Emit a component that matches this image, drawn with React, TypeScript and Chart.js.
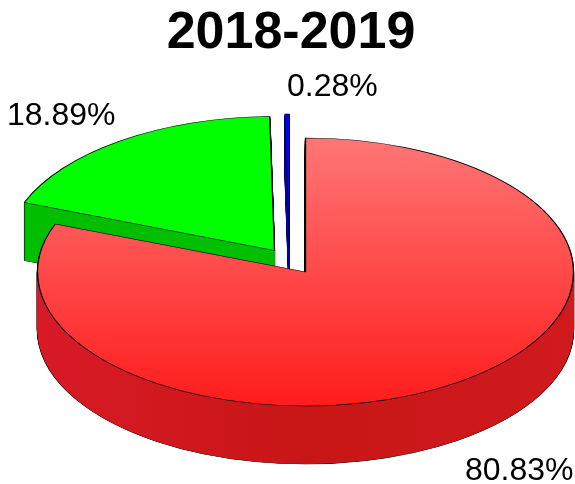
import React, { useEffect, useRef } from "react";
import { Chart, registerables } from "chart.js";

Chart.register(...registerables);

const categories = ["Series A", "Series B", "Series C"];
const shares = [80.83, 18.89, 0.28];
const chartTitle = "2018-2019";

const topColors = ["#FF0000", "#00FF00", "#0000FF"];
const wallColors = ["#CF1A1E", "#00BE00", "#0000BE"];
const displacement = [[0, 0], [-31, -43], [-16, -48]];
const labelSpots = [[465, 480], [7, 125], [287, 96]];
const outlineWidths = [1.3, 1.3, 0.8];

const PIE_X = 305.5;
const PIE_Y = 272;
const SQUASH = 0.5;
const DEPTH = 58;

const pie3d = {
  id: "pie3d",
  beforeDatasetDraw(chart: any) {
    const ctx = chart.ctx;
    const arcs = chart.getDatasetMeta(0).data;
    const place = (el: any, i: number, drop: number) => {
      ctx.translate(PIE_X + displacement[i][0], PIE_Y + displacement[i][1] * SQUASH + drop);
      ctx.scale(1, SQUASH);
      ctx.translate(-el.x, -el.y);
    };
    const paint = (el: any, i: number, drop: number, fill: any, width: number) => {
      const saved = el.options;
      ctx.save();
      place(el, i, drop);
      el.options = { ...saved, offset: 0, backgroundColor: fill, borderColor: "#000000", borderWidth: width };
      el.draw(ctx);
      el.options = saved;
      ctx.restore();
    };
    [2, 1, 0].forEach((i) => {
      const el = arcs[i];
      const r = el.outerRadius;
      for (let d = DEPTH; d >= 1; d--) paint(el, i, d, "#000000", outlineWidths[i]);
      let wall: any = wallColors[i];
      if (i === 0) {
        wall = ctx.createLinearGradient(el.x - r, 0, el.x + r, 0);
        wall.addColorStop(0, "#D81A26");
        wall.addColorStop(0.5, "#C81616");
        wall.addColorStop(1, "#D01A1E");
      }
      for (let d = DEPTH; d >= 1; d--) paint(el, i, d, wall, 0);
      let top: any = topColors[i];
      if (i === 0) {
        top = ctx.createLinearGradient(0, el.y - r, 0, el.y + r);
        top.addColorStop(0, "#FF7676");
        top.addColorStop(1, "#FF1C1C");
      }
      paint(el, i, 0, top, outlineWidths[i]);
    });
    return false;
  },
  afterDatasetsDraw(chart: any) {
    const ctx = chart.ctx;
    ctx.save();
    ctx.font = "32px 'Liberation Sans'";
    ctx.fillStyle = "#000000";
    ctx.textAlign = "left";
    ctx.textBaseline = "alphabetic";
    shares.forEach((v, i) => {
      ctx.fillText(v.toFixed(2) + "%", labelSpots[i][0], labelSpots[i][1]);
    });
    ctx.restore();
  },
};

export default function App() {
  const ref = useRef<HTMLCanvasElement>(null);
  useEffect(() => {
    const chart = new Chart(ref.current as HTMLCanvasElement, {
      type: "pie",
      data: {
        labels: categories,
        datasets: [{ data: shares, backgroundColor: topColors }],
      },
      options: {
        animation: false,
        responsive: false,
        events: [],
        radius: 268,
        layout: { padding: { left: 7 } },
        plugins: {
          legend: { display: false },
          tooltip: { enabled: false },
          title: {
            display: true,
            text: chartTitle,
            color: "#000000",
            font: { family: "'Liberation Sans'", size: 52, weight: "bold" },
            padding: { top: 2, bottom: 10 },
          },
        },
      },
      plugins: [pie3d],
    } as any);
    return () => chart.destroy();
  }, []);
  return (
    <canvas
      ref={ref}
      width={575}
      height={484}
      style={{ position: "absolute", left: 0, top: 0, display: "block", width: 575, height: 484 }}
    />
  );
}
